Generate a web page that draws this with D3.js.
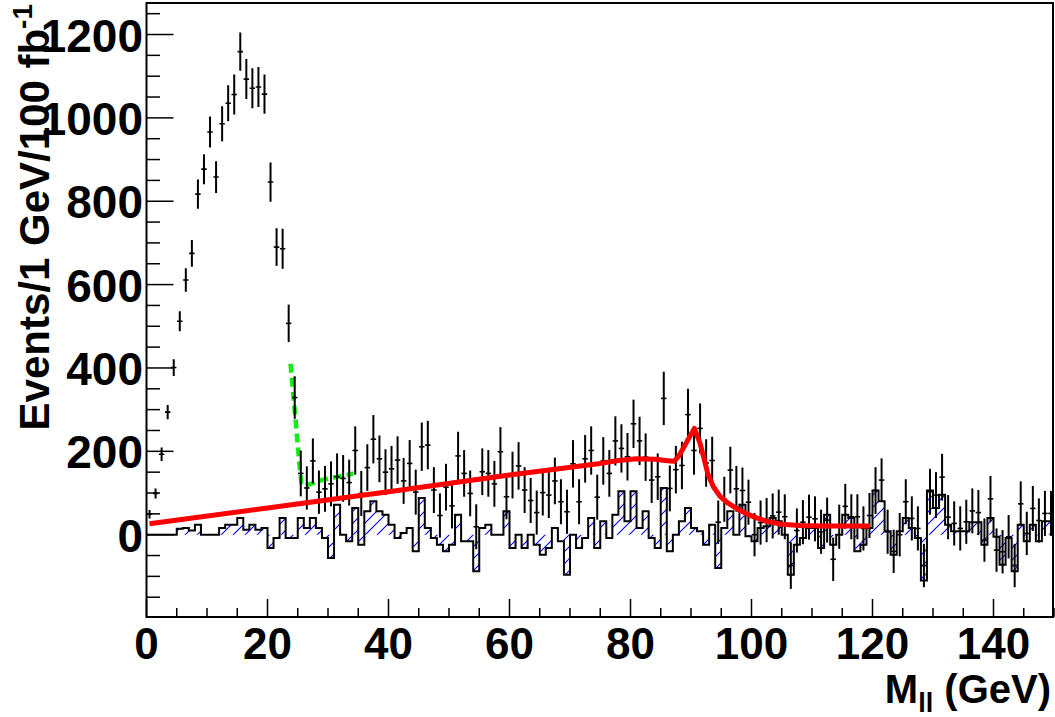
<!DOCTYPE html>
<html>
<head>
<meta charset="utf-8">
<script src="https://cdn.jsdelivr.net/npm/d3@7"></script>
<style>
  html, body { margin: 0; padding: 0; background: #ffffff; }
  svg { display: block; }
  text { font-family: "Liberation Sans", Arial, Helvetica, sans-serif; font-weight: bold; fill: #000; }
</style>
</head>
<body>
<svg id="chart" width="1055" height="717"></svg>
<script>
// Dilepton invariant mass, 1 GeV bins from 0 to 150 GeV
const binLow = d3.range(0, 150);

// Signal events per bin (points with error bars)
const signal = [
  49, 99, 193, 294, 401, 512, 611, 675, 817, 877,
  966, 858, 986, 1035, 1056, 1159, 1093, 1071, 1074, 1057,
  846, 690, 686, 507, 329, 147, 112, 177, 102, 110,
  122, 139, 135, 125, 202, 99, 161, 229, 182, 150,
  158, 179, 129, 171, 102, 211, 215, 107, 46, 114,
  69, 189, 147, 99, 19, 151, 147, 122, 199, 91,
  143, 165, 107, 82, 53, 101, 95, 129, 79, 55,
  170, 79, 182, 202, 90, 177, 147, 225, 207, 187,
  266, 225, 186, 131, 139, 327, 111, 156, 166, 288,
  202, 255, 172, 178, 30, 85, 155, 110, 106, 78,
  0, 29, 35, 45, 54, 43, -74, 10, 30, 42,
  38, 7, 35, -59, 19, 68, 43, 43, 15, 46,
  106, 131, 7, -40, 0, 79, 39, 15, -74, 103,
  95, 138, 42, 27, 15, 31, 57, 53, -13, 86,
  -37, -41, -5, -74, 74, 3, 63, 34, 51, 51
];

// Statistical uncertainty on each signal bin
const signalErr = [
  10, 12, 16, 17, 20, 24, 28, 32, 35, 36,
  37, 38, 42, 43, 48, 46, 48, 48, 48, 47,
  47, 45, 48, 45, 51, 55, 52, 54, 52, 55,
  54, 56, 56, 55, 58, 54, 56, 58, 56, 55,
  55, 57, 55, 56, 54, 58, 58, 55, 53, 56,
  54, 58, 56, 55, 54, 56, 56, 55, 59, 54,
  56, 57, 55, 54, 53, 55, 55, 56, 54, 53,
  57, 54, 57, 58, 54, 57, 56, 59, 58, 57,
  58, 58, 57, 55, 56, 64, 55, 57, 57, 62,
  58, 60, 57, 57, 52, 54, 56, 55, 55, 54,
  52, 53, 53, 54, 54, 54, 56, 53, 53, 54,
  54, 53, 54, 52, 53, 54, 54, 54, 53, 54,
  56, 52, 53, 52, 52, 54, 53, 53, 52, 55,
  55, 56, 53, 53, 53, 53, 54, 54, 52, 55,
  52, 52, 52, 52, 54, 52, 54, 53, 54, 54
];

// Background-subtracted residual histogram (hatched)
const residual = [
  0, 0, 0, 0, 0, 14, 16, 10, 24, 0,
  0, 0, 16, 24, 24, 40, 12, 24, 12, 16,
  -32, -8, 40, -8, -8, 40, 16, 40, 16, -8,
  -56, 72, 0, -16, 64, -24, 56, 80, 56, 48,
  24, -8, 4, 16, -40, 88, 16, -8, -24, -40,
  -24, 48, -16, -16, -88, 16, 24, 0, 0, 56,
  -32, 0, -32, 0, -24, -48, -32, 16, -16, -96,
  0, -32, -8, 40, -32, 32, -8, 48, 104, 32,
  104, 16, 56, -8, -32, 112, -40, 0, 32, 64,
  16, 8, -24, 24, -80, 16, 56, 0, 72, -4,
  -16, 16, 20, 40, 32, 0, -96, -24, -8, 16,
  16, -32, 48, -24, 0, 48, 40, -40, -24, 16,
  106, 80, 8, -48, 8, 40, 16, -8, -110, 106,
  64, 96, 24, 8, 8, 8, 30, 30, -24, 40,
  -5, -72, -8, -88, 24, -16, 24, -16, 32, 32
];

// Fitted continuum with Z peak (red)
const fitX = [0.5, 20, 40, 60, 75, 78, 81, 84, 86.5, 87.2, 88, 90.55, 91.5, 92.2, 92.8, 93.7, 94.8, 96, 97.5, 99.2, 100.5, 102.5, 105, 108, 112, 119.6];
const fitY = [26, 64, 103, 143, 171, 178, 182, 181, 177, 176, 189, 255, 219, 180, 145, 115, 92, 77, 63, 50, 42, 32, 25, 22, 21, 21];

// Low-mass edge fit (green dashed)
const edgeX = [23.8, 24.6, 25.3, 25.6, 25.9, 27.0, 28.7, 30.9, 33.1, 34.2];
const edgeY = [410, 282, 165, 124, 117, 121, 130, 137, 143, 147];

// Axis ticks
const xMajor = [0, 20, 40, 60, 80, 100, 120, 140];
const xMinor = d3.range(0, 151, 5);
const yMajor = [0, 200, 400, 600, 800, 1000, 1200];
const yMinor = d3.range(-150, 1276, 50);

const svg = d3.select("#chart");
const padL = 146.5, padR = 1054, padT = 3, padB = 617;

const x = d3.scaleLinear().domain([0, 150]).range([padL, padR]);
const y = d3.scaleLinear().domain([-197.5, 1275.6]).range([padB, padT]);

// Hatch pattern for the residual histogram
const defs = svg.append("defs");
const hs = 12;
const pat = defs.append("pattern")
  .attr("id", "hatch")
  .attr("patternUnits", "userSpaceOnUse")
  .attr("width", hs).attr("height", hs);
pat.append("path")
  .attr("d", `M-1,${hs + 1} L${hs + 1},-1 M${-hs / 2},${hs / 2} L${hs / 2},${-hs / 2} M${hs / 2},${hs * 1.5} L${hs * 1.5},${hs / 2}`)
  .attr("stroke", "#0000ff")
  .attr("stroke-width", 1.1)
  .attr("fill", "none");

defs.append("clipPath").attr("id", "plotClip")
  .append("rect").attr("x", padL).attr("y", padT)
  .attr("width", padR - padL).attr("height", padB - padT);

const plot = svg.append("g").attr("clip-path", "url(#plotClip)");

// Step outline points: value of bin i held from i to i+1
const stepPts = binLow.map((b, i) => [b, residual[i]]);
stepPts.push([150, residual[residual.length - 1]]);

plot.append("path")
  .datum(stepPts)
  .attr("fill", "url(#hatch)")
  .attr("stroke", "none")
  .attr("d", d3.area().curve(d3.curveStepAfter)
    .x(d => x(d[0])).y0(y(0)).y1(d => y(d[1])));

plot.append("path")
  .datum(stepPts)
  .attr("fill", "none")
  .attr("stroke", "#000")
  .attr("stroke-width", 2)
  .attr("d", d3.line().curve(d3.curveStepAfter)
    .x(d => x(d[0])).y(d => y(d[1])));

// Green dashed edge fit
plot.append("path")
  .datum(edgeX.map((v, i) => [v, edgeY[i]]))
  .attr("fill", "none")
  .attr("stroke", "#11ee11")
  .attr("stroke-width", 4.5)
  .attr("stroke-dasharray", "9 5")
  .attr("d", d3.line().x(d => x(d[0])).y(d => y(d[1])));

// Signal points with error bars
const pts = plot.append("g").attr("stroke", "#000");
binLow.forEach((b, i) => {
  const cx = x(b + 0.5);
  pts.append("line")
    .attr("x1", cx).attr("x2", cx)
    .attr("y1", y(signal[i] - signalErr[i])).attr("y2", y(signal[i] + signalErr[i]))
    .attr("stroke-width", 2);
  pts.append("line")
    .attr("x1", x(b + 0.05)).attr("x2", x(b + 0.95))
    .attr("y1", y(signal[i])).attr("y2", y(signal[i]))
    .attr("stroke-width", 1.6);
});

// Red fit curve
plot.append("path")
  .datum(fitX.map((v, i) => [v, fitY[i]]))
  .attr("fill", "none")
  .attr("stroke", "#ff0000")
  .attr("stroke-width", 5)
  .attr("stroke-linejoin", "round")
  .attr("d", d3.line().x(d => x(d[0])).y(d => y(d[1])));

// Frame
svg.append("rect")
  .attr("x", padL).attr("y", padT)
  .attr("width", padR - padL - 1).attr("height", padB - padT)
  .attr("fill", "none").attr("stroke", "#000").attr("stroke-width", 2);

// X axis ticks
const gx = svg.append("g").attr("stroke", "#000").attr("stroke-width", 1.5);
xMinor.forEach(v => {
  const major = xMajor.includes(v);
  gx.append("line")
    .attr("x1", x(v)).attr("x2", x(v))
    .attr("y1", padB).attr("y2", padB - (major ? 18 : 9));
});
svg.append("g").selectAll("text").data(xMajor).join("text")
  .attr("x", d => x(d)).attr("y", 659)
  .attr("text-anchor", "middle")
  .attr("font-size", 44)
  .text(d => d);

// Y axis ticks
const gy = svg.append("g").attr("stroke", "#000").attr("stroke-width", 1.5);
yMinor.forEach(v => {
  const major = yMajor.includes(v);
  gy.append("line")
    .attr("x1", padL).attr("x2", padL + (major ? 27 : 13.5))
    .attr("y1", y(v)).attr("y2", y(v));
});
svg.append("g").selectAll("text").data(yMajor).join("text")
  .attr("x", 143).attr("y", d => y(d) + 17)
  .attr("text-anchor", "end")
  .attr("font-size", 46)
  .text(d => d);

// Axis titles
const xt = svg.append("text")
  .attr("x", 1051).attr("y", 703)
  .attr("text-anchor", "end")
  .attr("font-size", 40);
xt.append("tspan").text("M");
xt.append("tspan").attr("font-size", 27).attr("dy", 9).text("ll");
xt.append("tspan").attr("dy", -9).text(" (GeV)");

const yt = svg.append("text")
  .attr("transform", "translate(49,4) rotate(-90)")
  .attr("x", 0).attr("y", 0)
  .attr("text-anchor", "end")
  .attr("font-size", 42);
yt.append("tspan").text("Events/1 GeV/100 fb");
yt.append("tspan").attr("font-size", 28).attr("dy", -17).text("-1");
</script>
</body>
</html>
